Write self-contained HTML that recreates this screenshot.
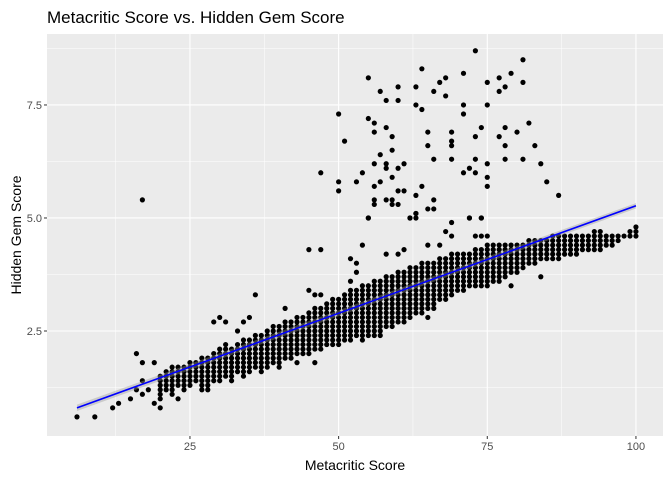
<!DOCTYPE html>
<html><head><meta charset="utf-8"><style>
body{margin:0;background:#fff;}
svg text{font-family:"Liberation Sans",Arial,sans-serif;}
</style></head><body>
<svg id="chart" width="672" height="480" xmlns="http://www.w3.org/2000/svg">
<rect width="672" height="480" fill="#fff"/>
<text x="47" y="23" font-size="17" fill="#000">Metacritic Score vs. Hidden Gem Score</text>
<rect x="47" y="34" width="616" height="402" fill="#ebebeb"/>
<g id="grid"></g><g id="axes"></g><g id="pts"></g><g id="fit"></g>
<text x="355" y="470" font-size="14" text-anchor="middle" fill="#000">Metacritic Score</text>
<text transform="translate(21,235) rotate(-90)" font-size="14" text-anchor="middle" fill="#000">Hidden Gem Score</text>
</svg>
<script>
const colM=[20,21,22,23,24,25,26,27,28,29,30,31,32,33,34,35,36,37,38,39,40,41,42,43,44,45,46,47,48,49,50,51,52,53,54,55,56,57,58,59,60,61,62,63,64,65,66,67,68,69,70,71,72,73,74,75,76,77,78,79,80,81,82,83,84,85,86,87,88,89,90,91,92,93,94,95,96,97,98,99,100];
const colLo=[1.0,1.2,1.1,1.3,1.2,1.3,1.4,1.2,1.2,1.4,1.4,1.5,1.4,1.6,1.5,1.6,1.7,1.6,1.7,1.8,1.8,1.9,1.9,2.0,2.0,2.0,2.1,2.1,2.2,2.2,2.2,2.3,2.3,2.4,2.3,2.4,2.4,2.5,2.6,2.6,2.7,2.7,2.8,2.9,2.9,3.0,3.1,3.2,3.2,3.3,3.4,3.4,3.5,3.5,3.5,3.5,3.6,3.6,3.7,3.8,3.8,3.9,4.0,4.0,4.1,4.1,4.1,4.1,4.2,4.2,4.2,4.3,4.3,4.3,4.3,4.4,4.4,4.5,4.6,4.6,4.6];
const colHi=[1.5,1.6,1.7,1.7,1.7,1.8,1.8,1.9,1.9,2.0,2.1,2.2,2.1,2.2,2.3,2.3,2.4,2.4,2.5,2.6,2.6,2.7,2.7,2.8,2.8,2.9,3.0,3.0,3.1,3.2,3.2,3.3,3.4,3.4,3.5,3.5,3.6,3.6,3.7,3.7,3.8,3.8,3.9,3.9,4.0,4.0,4.0,4.1,4.1,4.2,4.2,4.2,4.2,4.3,4.3,4.4,4.4,4.4,4.4,4.4,4.4,4.4,4.5,4.5,4.5,4.5,4.6,4.6,4.6,4.6,4.6,4.6,4.6,4.7,4.7,4.6,4.6,4.6,4.6,4.7,4.8];
const outM=[6,9,12,13,15,16,16,17,19,17,
 17,18,19,23,17,73,81,64,55,71,
 79,67,68,75,77,81,78,77,60,63,
 57,66,58,60,68,50,63,64,71,75,
 71,55,56,82,74,78,58,80,56,65,
 69,73,77,59,51,59,65,69,69,78,
 83,57,56,58,58,61,66,69,73,78,
 81,84,75,47,54,60,72,71,73,50,
 50,53,57,56,59,75,75,85,87,64,
 63,60,61,56,56,58,59,59,60,65,
 66,66,63,62,55,72,74,47,45,54,
 58,60,61,65,67,68,69,69,72,74,
 73,74,75,62,63,63,55,52,53,53,
 52,84,79,57,65,66,30,29,31,34,
 35,33,41,45,46,47,40,43,46,20,
 36];
const outS=[0.6,0.6,0.8,0.9,1.0,1.2,2.0,1.8,1.8,1.4,
 1.1,1.2,0.9,1.0,5.4,8.7,8.5,8.3,8.1,8.2,
 8.2,8.0,8.1,8.0,8.1,8.0,7.9,7.8,7.9,7.9,
 7.8,7.8,7.6,7.6,7.7,7.3,7.5,7.4,7.5,7.5,
 7.3,7.2,7.1,7.1,7.0,7.0,7.0,6.9,6.9,6.9,
 6.9,6.8,6.8,6.8,6.7,6.5,6.6,6.7,6.6,6.6,
 6.6,6.4,6.2,6.2,6.1,6.2,6.3,6.3,6.3,6.3,
 6.3,6.2,6.2,6.0,6.0,6.1,6.1,6.0,6.0,5.8,
 5.6,5.8,5.8,5.7,5.9,5.9,5.7,5.8,5.5,5.7,
 5.5,5.6,5.6,5.4,5.3,5.4,5.4,5.3,5.3,5.2,
 5.2,5.4,5.1,5.0,5.0,5.0,5.0,4.3,4.3,4.4,
 4.2,4.2,4.3,4.4,4.4,4.7,4.9,4.6,5.0,5.0,
 4.6,4.6,4.6,5.0,5.1,5.0,5.0,4.1,4.0,3.8,
 3.6,3.7,3.5,2.4,2.8,3.0,2.8,2.7,2.7,2.7,
 2.8,2.5,3.0,3.4,3.3,3.3,1.7,1.8,1.8,0.8,
 3.3];
const fitX=[6,100];
const fitY=[0.8,5.27];
const xTicks=[25,50,75,100];
const yTicks=[2.5,5.0,7.5];
const yTickLabels=["2.5","5.0","7.5"];

const NS="http://www.w3.org/2000/svg";
const L=47,R=663,T=34,B=436;
const xMin=0.96,xMax=104.55,yMin=0.177,yMax=9.07;
function sx(v){return L+(v-xMin)/(xMax-xMin)*(R-L);}
function sy(v){return B-(v-yMin)/(yMax-yMin)*(B-T);}
function mk(tag,attrs,parent){const e=document.createElementNS(NS,tag);for(const k in attrs)e.setAttribute(k,attrs[k]);parent.appendChild(e);return e;}
const grid=document.getElementById('grid'),axes=document.getElementById('axes'),pts=document.getElementById('pts'),fit=document.getElementById('fit');
for(let i=0;i<xTicks.length;i++){const v=xTicks[i]-12.5;
 const g=mk('line',{x1:sx(v),x2:sx(v),y1:T,y2:B,stroke:'#fff','stroke-width':0.5},grid);
 
 }
for(let i=0;i<yTicks.length+1;i++){const v=1.25+2.5*i;
 const g=mk('line',{x1:L,x2:R,y1:sy(v),y2:sy(v),stroke:'#fff','stroke-width':0.5},grid);
 
 }
xTicks.forEach(v=>{
 const g=mk('line',{x1:sx(v),x2:sx(v),y1:T,y2:B,stroke:'#fff','stroke-width':1.1},grid);
 
 
 const t=mk('line',{x1:sx(v),x2:sx(v),y1:B,y2:B+3,stroke:'#333','stroke-width':1},axes);
 
 
 const l=mk('text',{x:sx(v),y:B+14,'font-size':11,'text-anchor':'middle',fill:'#4d4d4d'},axes);
 l.textContent=String(v);
 
 
});
yTicks.forEach((v,i)=>{
 const g=mk('line',{x1:L,x2:R,y1:sy(v),y2:sy(v),stroke:'#fff','stroke-width':1.1},grid);
 
 
 const t=mk('line',{x1:L-3,x2:L,y1:sy(v),y2:sy(v),stroke:'#333','stroke-width':1},axes);
 
 
 const l=mk('text',{x:L-5,y:sy(v)+4,'font-size':11,'text-anchor':'end',fill:'#4d4d4d'},axes);
 l.textContent=yTickLabels[i];
 
 
});
for(let i=0;i<colM.length;i++){
 const n=Math.round((colHi[i]-colLo[i])*10);
 for(let k=0;k<=n;k++){
  const s=colLo[i]+k*0.1;
  const c=mk('circle',{cx:sx(colM[i]),cy:sy(s),r:2.6,fill:'#000'},pts);
  
  
 }
}
for(let i=0;i<outM.length;i++){
 const c=mk('circle',{cx:sx(outM[i]),cy:sy(outS[i]),r:2.6,fill:'#000'},pts);
 
 
}
const rib=mk('polygon',{points:`${sx(fitX[0])},${sy(fitY[0]+0.07)} ${sx(fitX[1])},${sy(fitY[1]+0.06)} ${sx(fitX[1])},${sy(fitY[1]-0.06)} ${sx(fitX[0])},${sy(fitY[0]-0.07)}`,fill:'#999','fill-opacity':0.4},fit);


const ln=mk('line',{x1:sx(fitX[0]),y1:sy(fitY[0]),x2:sx(fitX[1]),y2:sy(fitY[1]),stroke:'#0000ff','stroke-width':1.6},fit);


</script>
</body></html>
